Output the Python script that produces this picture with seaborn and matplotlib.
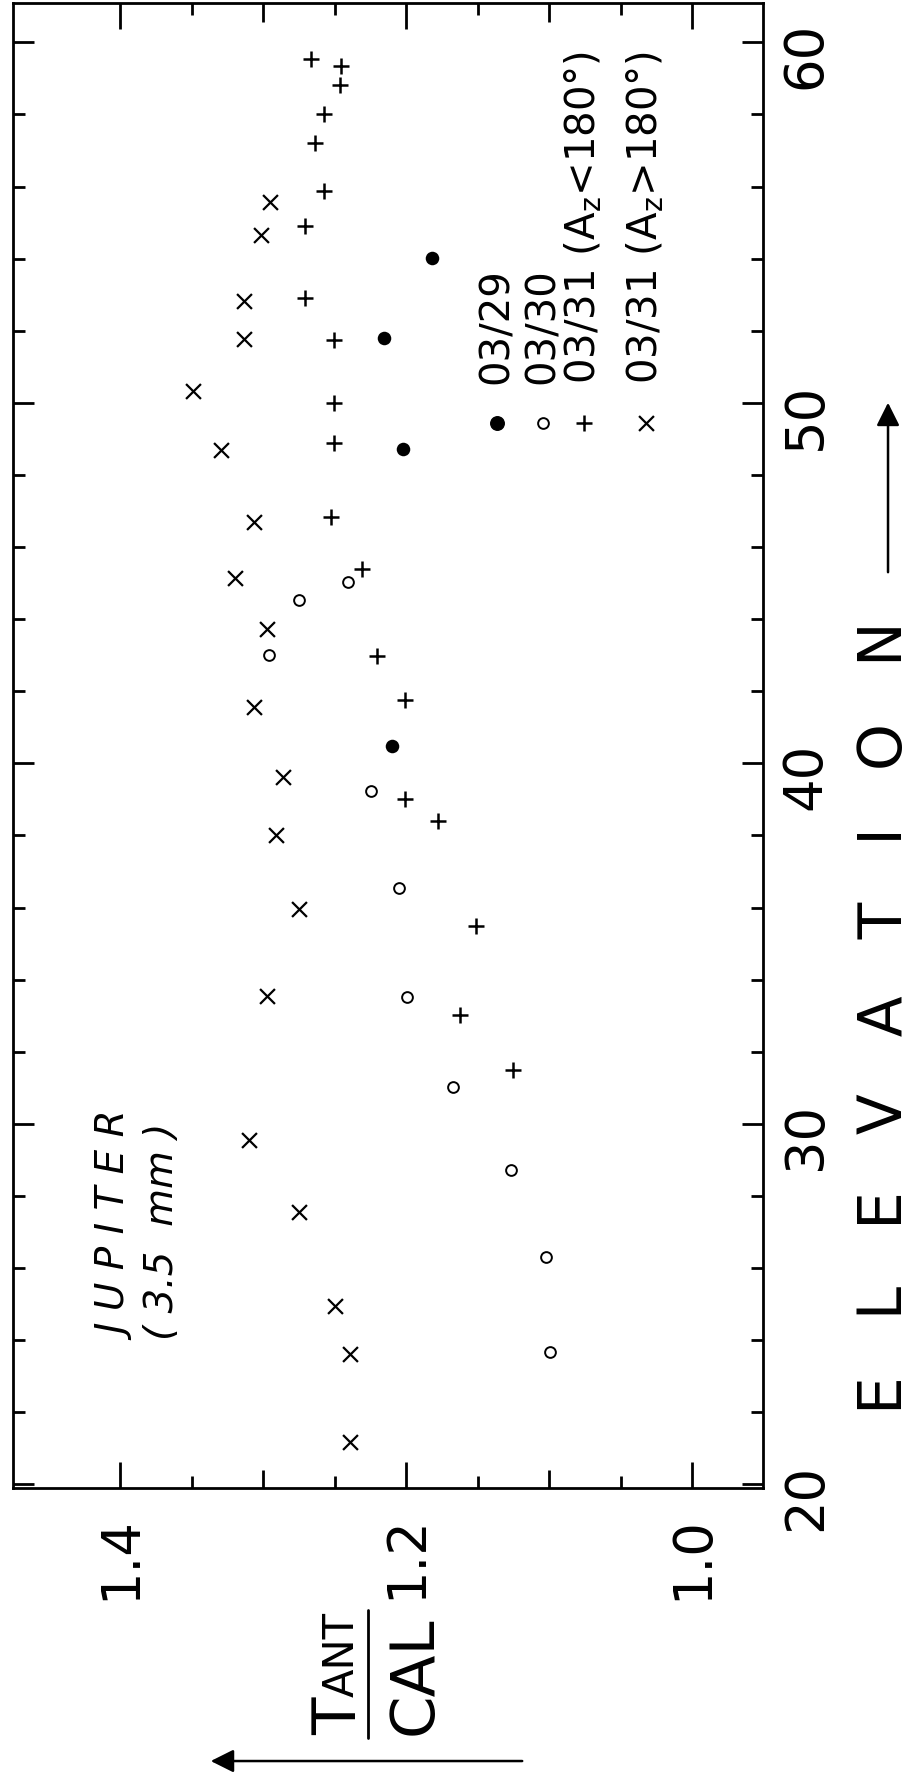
import numpy as np
import pandas as pd
import seaborn as sns
import matplotlib.pyplot as plt

# Jupiter 3.5mm: antenna temperature / calibration vs elevation
tant_0329 = [1.1816, 1.2157, 1.2019, 1.2100]
elev_0329 = [54.03, 51.79, 48.71, 40.48]

tant_0330 = [1.2406, 1.2747, 1.2963, 1.2243, 1.2049, 1.1996, 1.1669, 1.1266, 1.1018, 1.0990]
elev_0330 = [45.03, 44.54, 43.00, 39.23, 36.55, 33.52, 31.02, 28.73, 26.31, 23.67]

tant_0331a = [1.2669, 1.2453, 1.2460, 1.2576, 1.2637, 1.2576, 1.2711, 1.2711, 1.2503, 1.2503,
              1.2503, 1.2528, 1.2312, 1.2202, 1.2007, 1.2007, 1.1775, 1.1510, 1.1620, 1.1254]
elev_0331a = [59.53, 59.35, 58.83, 58.00, 57.21, 55.87, 54.90, 52.90, 51.74, 50.00,
              48.89, 46.84, 45.38, 42.98, 41.75, 39.02, 38.40, 35.48, 33.01, 31.50]

tant_0331b = [1.2951, 1.3016, 1.3134, 1.3134, 1.3492, 1.3297, 1.3065, 1.3199, 1.2971, 1.3065,
              1.2861, 1.2914, 1.2747, 1.2971, 1.3097, 1.2751, 1.2495, 1.2393, 1.2393]
elev_0331b = [55.58, 54.65, 52.82, 51.76, 50.32, 48.69, 46.70, 45.13, 43.74, 41.57,
              39.62, 38.00, 35.97, 33.56, 29.54, 27.55, 24.96, 23.62, 21.17]

legend_labels = ['03/29', '03/30', r'03/31 ($A_z$<180°)', r'03/31 ($A_z$>180°)']

x_ticks = [1.0, 1.1, 1.2, 1.3, 1.4]
x_ticklabels = ['1.0', '', '1.2', '', '1.4']
x_minor = [1.05, 1.15, 1.25, 1.35]
y_ticks = [20, 30, 40, 50, 60]
y_minor = [v for v in range(22, 60, 2) if v % 10 != 0]

sns.set_style('ticks')
plt.rcParams['font.family'] = ['DejaVu Sans']
plt.rcParams['mathtext.default'] = 'regular'
plt.rcParams['text.color'] = 'black'
plt.rcParams['xtick.color'] = 'black'
plt.rcParams['ytick.color'] = 'black'

fig = plt.figure(figsize=(9.17, 17.79), dpi=100)
ax = fig.add_axes([0.01385, 0.1636, 0.8182, 0.8349])

# Draw the points (chart is drawn already turned by 90 degrees)
sns.scatterplot(x=tant_0329, y=elev_0329, marker='o', s=95, color='black', linewidth=0, ax=ax)
sns.scatterplot(x=tant_0330, y=elev_0330, marker='o', s=60, color='white', edgecolor='black',
                linewidth=1.4, ax=ax)
sns.scatterplot(x=tant_0331a, y=elev_0331a, marker='+', s=125, color='black', linewidth=1.8, ax=ax)
sns.scatterplot(x=tant_0331b, y=elev_0331b, marker='x', s=115, color='black', linewidth=1.6, ax=ax)

ax.set_xlim(1.4753, 0.9503)
ax.set_ylim(19.9, 61.1)

ax.set_xticks(x_ticks, labels=x_ticklabels)
ax.set_xticks(x_minor, minor=True)
ax.set_yticks(y_ticks)
ax.set_yticks(y_minor, minor=True)

ax.tick_params(axis='x', which='major', direction='in', length=19, width=2,
               top=True, bottom=True, labelrotation=90, pad=20, labelsize=38)
ax.tick_params(axis='x', which='minor', direction='in', length=8.5, width=2, top=True, bottom=True)
ax.tick_params(axis='y', which='major', direction='in', length=15, width=2,
               left=True, right=True, labelleft=False, labelright=True,
               labelrotation=90, pad=12, labelsize=38)
ax.tick_params(axis='y', which='minor', direction='in', length=8.5, width=2, left=True, right=True)

# medium ticks at 1.1 and 1.3
for i in (1, 3):
    t = ax.xaxis.get_major_ticks()[i]
    t.tick1line.set_markersize(13)
    t.tick2line.set_markersize(14)

for sp in ax.spines.values():
    sp.set_linewidth(2)
    sp.set_color('black')
ax.set_xlabel('')
ax.set_ylabel('')

# legend (rotated)
leg_x = [0.6455, 0.7068, 0.7615, 0.8441]
ax.scatter([leg_x[0]], [0.717], marker='o', s=95, color='black', transform=ax.transAxes)
ax.scatter([leg_x[1]], [0.717], marker='o', s=60, facecolor='white', edgecolor='black',
           linewidth=1.4, transform=ax.transAxes)
ax.scatter([leg_x[2]], [0.717], marker='+', s=125, color='black', linewidth=1.8, transform=ax.transAxes)
ax.scatter([leg_x[3]], [0.717], marker='x', s=115, color='black', linewidth=1.6, transform=ax.transAxes)
for lx, lab in zip(leg_x, legend_labels):
    ax.text(lx, 0.743, lab, rotation=90, ha='center', va='bottom', fontsize=29,
            transform=ax.transAxes)

ax.text(0.142, 0.0996, 'J U P I T E R', rotation=90, ha='center', va='bottom', fontsize=28,
        fontstyle='italic', transform=ax.transAxes)
ax.text(0.199, 0.0996, '( 3.5  mm )', rotation=90, ha='center', va='bottom', fontsize=28,
        fontstyle='italic', transform=ax.transAxes)

# axis titles
fig.text(0.966, 0.428, 'E   L   E   V   A   T   I   O   N', rotation=90, ha='center', va='center',
         fontsize=43)

# T_ANT / CAL fraction, drawn rotated
fig.text(356 / 917, (1779 - 1735) / 1779, 'T', rotation=90, rotation_mode='anchor',
         ha='left', va='baseline', fontsize=44)
fig.text(354 / 917, (1779 - 1697) / 1779, 'ANT', rotation=90, rotation_mode='anchor',
         ha='left', va='baseline', fontsize=30)
fig.text(432 / 917, (1779 - 1735) / 1779, 'CAL', rotation=90, rotation_mode='anchor',
         ha='left', va='baseline', fontsize=44)
fig.add_artist(plt.Line2D([368 / 917, 368 / 917], [(1779 - 1610) / 1779, (1779 - 1738) / 1779],
                          transform=fig.transFigure, color='black', lw=2))

ax.annotate('', xy=(0.9684, 0.7752), xytext=(0.9684, 0.6768), xycoords='figure fraction',
            arrowprops=dict(arrowstyle='-|>', lw=1.8, color='black', mutation_scale=35))
ax.annotate('', xy=(0.2268, 0.0101), xytext=(0.5725, 0.0101), xycoords='figure fraction',
            arrowprops=dict(arrowstyle='-|>', lw=1.8, color='black', mutation_scale=35))

fig.savefig('out.png', dpi=100)
